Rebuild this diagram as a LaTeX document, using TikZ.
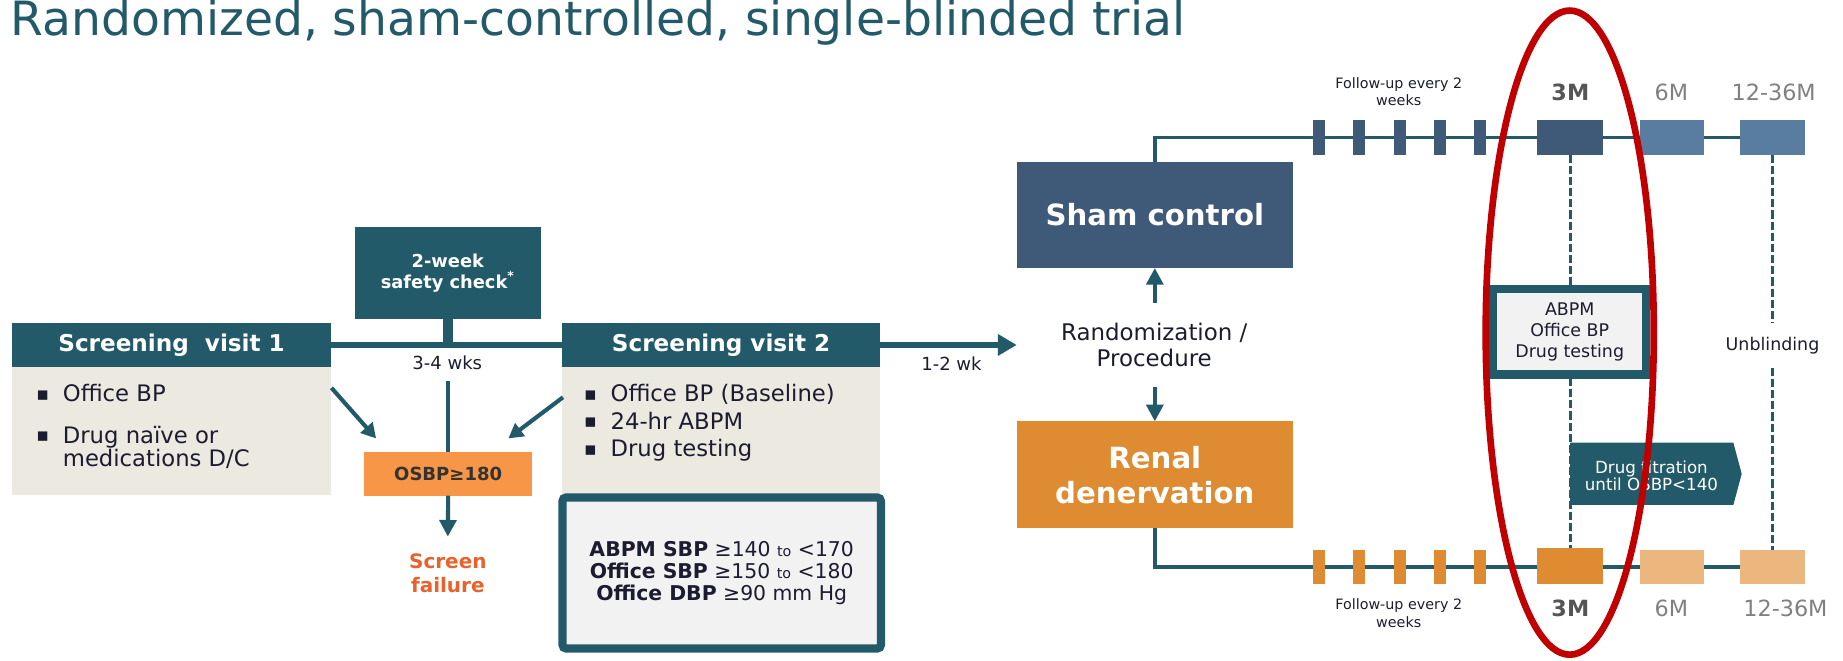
\documentclass[tikz,border=0pt]{standalone}
\usepackage{fontspec}
\setmainfont{DejaVu Sans}
\usetikzlibrary{arrows.meta,calc,backgrounds}

\definecolor{cTeal}{HTML}{225A69}
\definecolor{cSlate}{HTML}{3E5A78}
\definecolor{cSlateL}{HTML}{587DA1}
\definecolor{cOrange}{HTML}{DF8B31}
\definecolor{cOrangeL}{HTML}{ECB77E}
\definecolor{cOsbp}{HTML}{F79646}
\definecolor{cBeige}{HTML}{ECE9E0}
\definecolor{cPanel}{HTML}{F2F2F2}
\definecolor{cFail}{HTML}{E8632B}
\definecolor{cRing}{HTML}{C00000}
\definecolor{cInk}{HTML}{1C1C30}
\definecolor{cDark}{HTML}{333333}
\definecolor{cGray}{HTML}{808080}
\definecolor{cGrayD}{HTML}{555555}

\newcommand{\fs}[2]{\fontsize{#1}{#2}\selectfont}
\newcommand{\itm}{\makebox[13.5pt][l]{\raisebox{0.6pt}{\fs{9.6}{10}▪}}}

\begin{document}
\begin{tikzpicture}[x=0.6pt, y=-0.6pt,
  every node/.style={inner sep=0pt, outer sep=0pt, text=cInk},
  sz/.style 2 args={minimum width={#1*0.6pt}, minimum height={#2*0.6pt}},
  hdr/.style={fill=cTeal, text=white, font=\bfseries\fs{11.8}{14}},
  bodybox/.style={fill=cBeige},
  bul/.style={anchor=base west, font=\fs{11.6}{14}},
  small/.style={font=\fs{9.2}{11}},
  panel/.style={draw=cTeal, line width=4.2pt, fill=cPanel},
  diag/.style={cTeal, line width=2.1pt, -{Triangle[length=7.5pt,width=8pt]}},
  arrV/.style={cTeal, line width=2.1pt, -{Triangle[length=8.5pt,width=8.5pt]}},
  tl/.style={cTeal, line width=1.8pt},
  dsh/.style={cTeal, line width=1.4pt, dash pattern=on 4.2pt off 1.5pt},
  tick/.style={sz={10}{29}},
  mbox/.style={sz={55}{29}},
  mlbl/.style={anchor=base, font=\fs{11.4}{13}, text=cGray},
  mlblb/.style={anchor=base, font=\bfseries\fs{11.4}{13}, text=cGrayD},
  fu/.style={align=center, font=\fs{7.3}{9}}
]
\useasboundingbox (0,0) rectangle (1568,562);

% title
\node[anchor=base west, font=\fs{24.1}{28}, text=cTeal] (title) at (9,30)
  {Randomized, sham-controlled, single-blinded trial};

% screening visit 1
\node[hdr, sz={272}{37}] (sv1h) at (146,293.5) {Screening\ \ visit 1};
\node[bodybox, sz={272}{109}] (sv1b) at (146,366.5) {};
\node[bul] (sv1i1) at (31,341.7) {\itm Office BP};
\node[bul] (sv1i2) at (31,377) {\itm Drug naïve or};
\node[bul] (sv1i3) at (53.5,397) {medications D/C};

% safety check
\node[fill=cTeal, text=white, sz={158.6}{78.6}, align=center,
      font=\bfseries\fs{9.1}{10.8}] (safety) at (381,232.1)
  {2-week\\safety check\textsuperscript{*}};

% screening visit 2
\node[hdr, sz={271}{37}] (sv2h) at (613.5,293.5) {Screening visit 2};
\node[bodybox, sz={271}{109}] (sv2b) at (613.5,366.5) {};
\node[bul] (sv2i1) at (497,341.5) {\itm Office BP (Baseline)};
\node[bul] (sv2i2) at (497,365) {\itm 24-hr ABPM};
\node[bul] (sv2i3) at (497,388.5) {\itm Drug testing};

% screening timeline
\draw[cTeal, line width=3.4pt] (sv1h.east) -- (sv2h.west);
\draw[cTeal, line width=5.4pt] (safety.south) -- (safety.south |- sv1h.east);
\node[small] (wks) at (380.5,309) {3-4 wks};

% screen failure branch
\node[fill=cOsbp, sz={142.6}{37.4}, font=\bfseries\fs{9.2}{10}, text=cDark] (osbp) at (381.3,403) {OSBP≥180};
\coordinate (drop) at (381.3,324);
\draw[cTeal, line width=1.8pt] (drop) -- (osbp.north);
\coordinate (a1s) at (282,330);
\coordinate (a1e) at (320,373);
\coordinate (a2s) at (479,338);
\coordinate (a2e) at (432.5,373);
\draw[diag] (a1s) -- (a1e);
\draw[diag] (a2s) -- (a2e);
\node[align=center, font=\bfseries\fs{10.2}{12}, text=cFail] (sf) at (381,487.5) {Screen\\failure};
\draw[arrV] (osbp.south) -- ($(sf.north)+(0,-14.5)$);

% inclusion criteria
\node[panel, rounded corners=2pt, sz={271}{128.6}, align=center, font=\fs{10.4}{11.4}] (crit) at (614,487.5)
  {\textbf{ABPM SBP} ≥140 {\fs{7.3}{8}to} <170\\
   \textbf{Office SBP} ≥150 {\fs{7.3}{8}to} <180\\
   \textbf{Office DBP} ≥90 mm Hg};

% randomization
\coordinate (rtip) at (865,293.5);
\draw[cTeal, line width=3.4pt, -{Triangle[length=9.6pt,width=10.5pt]}] (sv2h.east) -- (rtip);
\node[small] (wk12) at (809.5,309) {1-2 wk};
\node[align=center, font=\fs{11.7}{13.2}] (rand) at (982,293.6) {Randomization /\\Procedure};
\node[fill=cSlate, text=white, sz={235}{90.5}, font=\bfseries\fs{14.9}{17}] (sham) at (982.5,182.75) {Sham control};
\node[fill=cOrange, text=white, sz={235}{91}, align=center, font=\bfseries\fs{14.9}{17.7}] (renal) at (982.5,404) {Renal\\denervation};
\coordinate (upS) at (982.5,258);
\coordinate (dnS) at (982.5,329);
\draw[arrV] (upS) -- (sham.south);
\draw[arrV] (dnS) -- (renal.north);

% follow-up visits every two weeks, both arms
\foreach \i/\x in {1/1122.3,2/1156.5,3/1190.8,4/1225,5/1259.3}{
  \node[tick, fill=cSlate] (tt\i) at (\x,117) {};
  \node[tick, fill=cOrange] (tb\i) at (\x,482.5) {};
}
\node[fill=cSlate, sz={56}{29}] (m3t) at (1336,117) {};
\node[mbox, fill=cSlateL] (m6t) at (1422.5,117) {};
\node[mbox, fill=cSlateL] (m12t) at (1508,117) {};
\node[fill=cOrange, sz={56}{31}] (m3b) at (1336,481.5) {};
\node[mbox, fill=cOrangeL] (m6b) at (1422.5,482.5) {};
\node[mbox, fill=cOrangeL] (m12b) at (1508,482.5) {};

% 3-month assessment
\node[panel, sz={130}{72.5}, align=center, font=\fs{8.9}{10.6}] (abpm) at (1335.5,282.3)
  {ABPM\\Office BP\\Drug testing};
\node[font=\fs{8.9}{11}, inner ysep=7pt] (unbl) at (1508,294) {Unblinding};

\begin{scope}[on background layer]
  \draw[tl] (sham.north) |- (m12t.east);
  \draw[tl] (renal.south) |- (m12b.east);
  \draw[dsh] (m3t.south) -- (m3b.north);
  \draw[dsh] (m12t.south) -- (unbl.north);
  \draw[dsh] (unbl.south) -- (m12b.north);
\end{scope}

% drug titration
\fill[cTeal] (1335.8,376.6) -- (1474.7,376.6) -- (1481.8,403.1) -- (1474.7,429.6) -- (1335.8,429.6) -- cycle;
\node[align=center, text=white, font=\fs{8.5}{8.6}] (dt) at (1405,404.5) {Drug titration\\until OSBP<140};

% time labels
\node[fu] (fut) at (1190,78) {Follow-up every 2\\weeks};
\node[mlblb] (l3t) at (1336,85.6) {3M};
\node[mlbl] (l6t) at (1422,85.6) {6M};
\node[mlbl] (l12t) at (1509,85.6) {12-36M};
\node[fu] (fub) at (1190,521.9) {Follow-up every 2\\weeks};
\node[mlblb] (l3b) at (1336,524.6) {3M};
\node[mlbl] (l6b) at (1422,524.6) {6M};
\node[mlbl] (l12b) at (1519,524.6) {12-36M};

% highlight ring
\draw[cRing, line width=3.4pt] (1335.5,283) ellipse [x radius=42.9pt, y radius=164.4pt];
\end{tikzpicture}
\end{document}
